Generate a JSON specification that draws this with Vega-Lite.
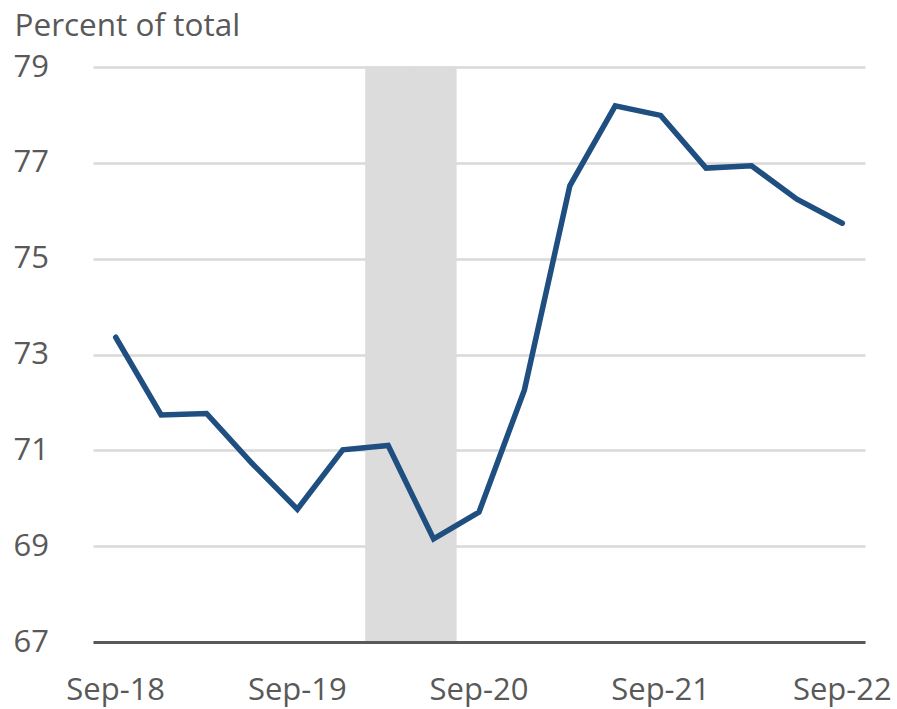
{
  "$schema": "https://vega.github.io/schema/vega-lite/v6.json",
  "width": 772,
  "height": 575,
  "autosize": {"type": "none"},
  "padding": {"left": 93, "top": 67, "right": 32, "bottom": 67},
  "config": {
    "view": {"stroke": null},
    "font": "Open Sans",
    "axis": {"labelFont": "Open Sans", "titleFont": "Open Sans", "labelColor": "#595959", "titleColor": "#595959"}
  },
  "datasets": {
    "series": [
      {"quarter": "Sep-18", "value": 73.36},
      {"quarter": "Dec-18", "value": 71.74},
      {"quarter": "Mar-19", "value": 71.77},
      {"quarter": "Jun-19", "value": 70.73},
      {"quarter": "Sep-19", "value": 69.77},
      {"quarter": "Dec-19", "value": 71.01},
      {"quarter": "Mar-20", "value": 71.10},
      {"quarter": "Jun-20", "value": 69.15},
      {"quarter": "Sep-20", "value": 69.71},
      {"quarter": "Dec-20", "value": 72.26},
      {"quarter": "Mar-21", "value": 76.52},
      {"quarter": "Jun-21", "value": 78.19},
      {"quarter": "Sep-21", "value": 77.99},
      {"quarter": "Dec-21", "value": 76.89},
      {"quarter": "Mar-22", "value": 76.94},
      {"quarter": "Jun-22", "value": 76.24},
      {"quarter": "Sep-22", "value": 75.74}
    ],
    "recession": [
      {"quarter": "Mar-20"},
      {"quarter": "Jun-20"}
    ]
  },
  "layer": [
    {
      "data": {"name": "recession"},
      "mark": {"type": "rect", "color": "#dcdcdc", "stroke": "#dcdcdc", "strokeWidth": 0.6},
      "encoding": {
        "x": {"field": "quarter", "type": "ordinal", "scale": {"type": "band"}, "sort": null}
      }
    },
    {
      "data": {"name": "series"},
      "mark": {"type": "line", "color": "#1F4E80", "strokeWidth": 5.5, "strokeCap": "round", "strokeJoin": "miter"},
      "encoding": {
        "x": {
          "field": "quarter",
          "type": "ordinal",
          "sort": null,
          "scale": {"type": "band", "paddingInner": 0, "paddingOuter": 0, "domain": ["Sep-18","Dec-18","Mar-19","Jun-19","Sep-19","Dec-19","Mar-20","Jun-20","Sep-20","Dec-20","Mar-21","Jun-21","Sep-21","Dec-21","Mar-22","Jun-22","Sep-22"]},
          "axis": {
            "title": null,
            "values": ["Sep-18","Sep-19","Sep-20","Sep-21","Sep-22"],
            "labelAngle": 0,
            "labelAlign": "center",
            "labelBaseline": "alphabetic",
            "labelFontSize": 31,
            "labelPadding": 57,
            "ticks": false,
            "domainColor": "#595959",
            "domainWidth": 3,
            "zindex": 1
          }
        },
        "y": {
          "field": "value",
          "type": "quantitative",
          "scale": {"domain": [67, 79], "nice": false, "zero": false},
          "axis": {
            "values": [67, 69, 71, 73, 75, 77, 79],
            "title": "Percent of total",
            "titleAngle": 0,
            "titleAlign": "left",
            "titleBaseline": "alphabetic",
            "titleX": -79,
            "titleY": -32,
            "titleFontSize": 31.5,
            "titleFontWeight": "normal",
            "labelFontSize": 31,
            "labelAlign": "left",
            "labelBaseline": "middle",
            "labelPadding": 80,
            "ticks": false,
            "domain": false,
            "grid": true,
            "gridColor": "#d9d9d9",
            "gridWidth": 2.5
          }
        }
      }
    }
  ]
}
